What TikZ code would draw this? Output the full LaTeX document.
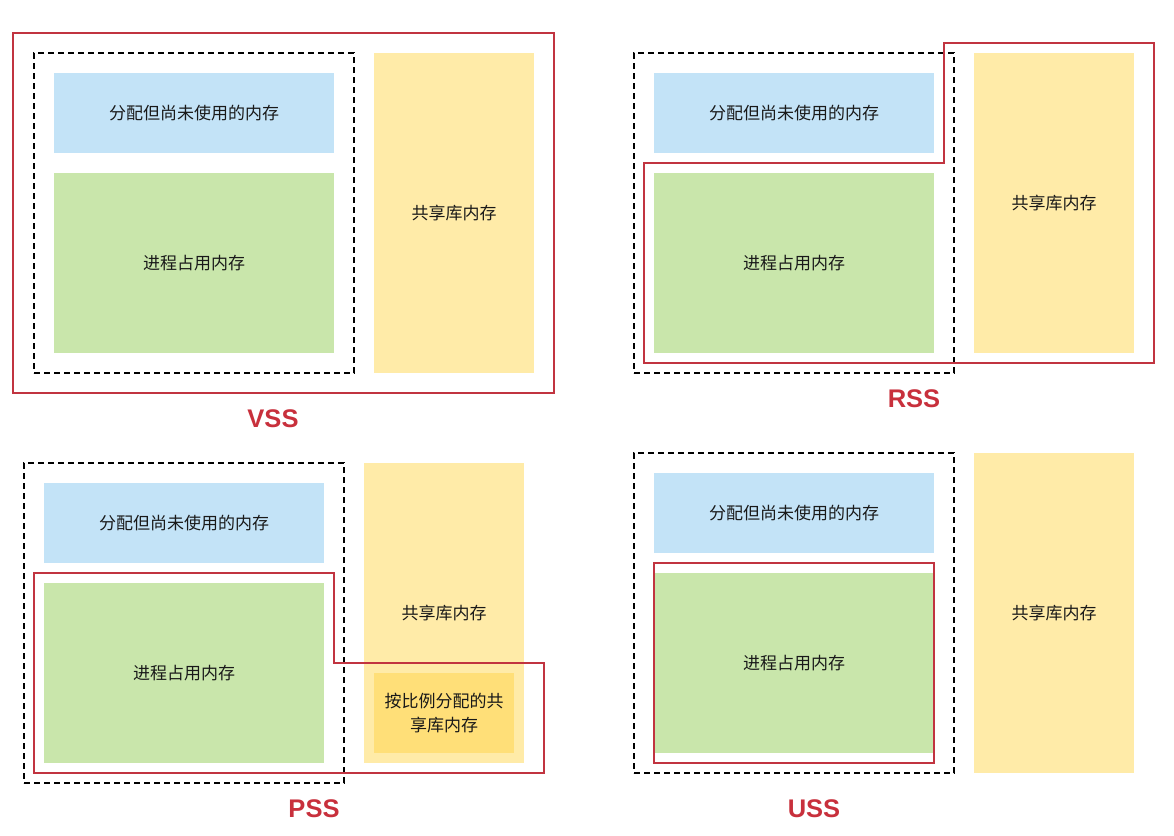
\documentclass[tikz,border=0pt]{standalone}
\usepackage{fontspec}
\setmainfont{Liberation Sans}
\newfontfamily\cjk{Noto Sans CJK SC}
\usetikzlibrary {positioning}
\definecolor{unusedblue}{HTML}{C3E3F7}
\definecolor{procgreen}{HTML}{C9E6AB}
\definecolor{sharedyellow}{HTML}{FFEBA8}
\definecolor{partyellow}{HTML}{FFDF78}
\definecolor{markred}{HTML}{C13440}
\definecolor{labelred}{HTML}{C8303C}
\tikzset{
    blk/.style={draw=none,inner sep=0pt,align=center,text=black!90,font=\cjk\fontsize{17}{24}\selectfont},
    unused/.style={blk,fill=unusedblue,minimum width=280,minimum height=80},
    proc/.style={blk,fill=procgreen,minimum width=280,minimum height=180},
    shared/.style={blk,fill=sharedyellow,minimum width=160},
    part/.style={blk,fill=partyellow,minimum width=140,minimum height=80},
    dashbox/.style={draw=black,line width=2pt,dash pattern=on 6pt off 4pt,minimum width=320,minimum height=320,inner sep=0pt},
    redline/.style={draw=markred,line width=2pt},
    tag/.style={text=labelred,font=\bfseries\fontsize{25.5}{28}\selectfont}
}
\newcommand{\memPanel}[4]{%
    \node[dashbox] (#3box) at (#1+160,#2+160) {};
    \node[unused] (#3unused) at (#1+160,#2+60) {分配但尚未使用的内存};
    \node[proc] (#3proc) at (#1+160,#2+210) {进程占用内存};
    \node[shared,minimum height=#4] (#3shared) at (#1+420,#2+#4/2) {共享库内存};
}

\begin{document}
\begin{tikzpicture}[x=1pt,y=-1pt]
    \useasboundingbox (0,0) rectangle (1174,835);
    %vss
    \memPanel{34}{53}{vss}{320}
    \draw[redline] (13,33) rectangle (554,393);
    \node[tag] (vsstag) at (273,419) {VSS};
    %rss
    \memPanel{634}{53}{rss}{300}
    \draw[redline] (644,163) -- (944,163) -- (944,43) -- (1154,43) -- (1154,363) -- (644,363) -- cycle;
    \node[tag] (rsstag) at (914,399) {RSS};
    %pss
    \memPanel{24}{463}{pss}{300}
    \node[part] (psspart) at (444,713) {按比例分配的共\\享库内存};
    \draw[redline] (34,573) -- (334,573) -- (334,663) -- (544,663) -- (544,773) -- (34,773) -- cycle;
    \node[tag] (psstag) at (314,809) {PSS};
    %uss
    \memPanel{634}{453}{uss}{320}
    \draw[redline] (654,563) rectangle (934,763);
    \node[tag] (usstag) at (814,809) {USS};
\end{tikzpicture}
\end{document}
